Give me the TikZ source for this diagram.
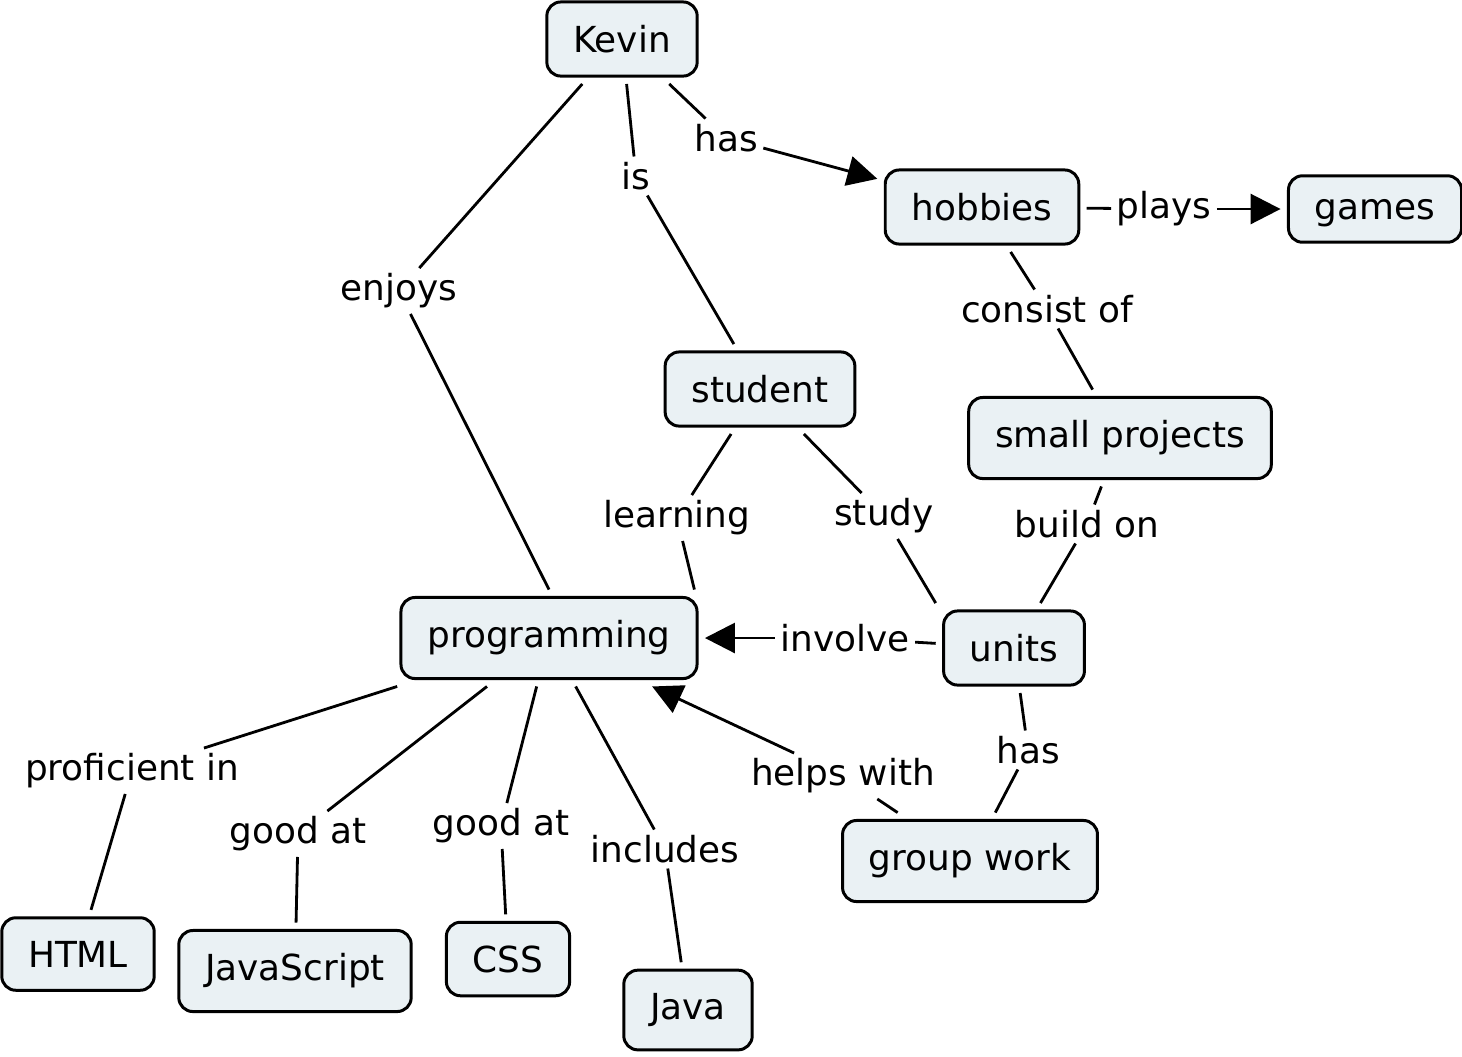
\documentclass[tikz,border=0pt]{standalone}
\usepackage{fontspec}
\setmainfont{DejaVu Sans}
\usepackage{tikz}
\usepackage{xcolor}
\usetikzlibrary{arrows.meta}
\definecolor{CmapFill}{HTML}{EAF1F4}

\begin{document}
\begin{tikzpicture}[
    x=0.02cm, y=-0.02cm,
    font=\fontsize{20.4}{24}\selectfont,
    concept/.style={draw,rounded corners=8pt,fill=CmapFill,line width=1.7pt,inner xsep=15pt,inner ysep=13.2pt,outer sep=4.5pt},
    link/.style={inner sep=3pt},
    line/.style={line width=1.6pt},
    arrow/.style={line,-{Triangle[length=17pt,width=17pt]}}
  ]
    \useasboundingbox (0,0) rectangle (1462,1056);

    \node[concept] (kevin) at (622,39) {Kevin};
    \node[concept] (hobbies) at (982,207) {hobbies};
    \node[concept,text depth=0pt] (games) at (1375,209) {games};
    \node[concept] (student) at (760,389) {student};
    \node[concept] (projects) at (1120,438) {small projects};
    \node[concept] (prog) at (549,638) {programming};
    \node[concept] (units) at (1014,648) {units};
    \node[concept] (group) at (970,861) {group work};
    \node[concept] (html) at (78,954) {HTML};
    \node[concept] (js) at (295,971) {JavaScript};
    \node[concept] (css) at (508,959) {CSS};
    \node[concept] (java) at (688,1010) {Java};

    \node[link] (enjoys) at (399,291) {enjoys};
    \node[link] (is) at (636,176) {is};
    \node[link] (has1) at (726,138) {has};
    \node[link] (plays) at (1164,209) {plays};
    \node[link] (consist) at (1047,309) {consist of};
    \node[link] (learning) at (677,518) {learning};
    \node[link] (study) at (884,516) {study};
    \node[link] (build) at (1087,524) {build on};
    \node[link] (involve) at (845,638) {involve};
    \node[link] (has2) at (1028,750) {has};
    \node[link] (helps) at (843,776) {helps with};
    \node[link] (profin) at (132,771) {proficient in};
    \node[link] (good1) at (298,834) {good at};
    \node[link] (good2) at (501,826) {good at};
    \node[link] (includes) at (665,849) {includes};

    \draw[line] (kevin) -- (enjoys);
    \draw[line] (enjoys) -- (prog.north);
    \draw[line] (kevin) -- (is);
    \draw[line] (is) -- (student);
    \draw[line] (kevin) -- (has1);
    \draw[arrow] (has1) -- (hobbies);
    \draw[line] (hobbies) -- (plays);
    \draw[arrow] (plays) -- (games);
    \draw[line] (hobbies) -- (consist);
    \draw[line] (consist) -- (projects);
    \draw[line] (student) -- (learning);
    \draw[line] (learning) -- ([xshift=-6pt]prog.north east);
    \draw[line] (student) -- (study);
    \draw[line] (study) -- (units.north west);
    \draw[line] (projects) -- (build);
    \draw[line] (build) -- (units);
    \draw[line] (units) -- (involve);
    \draw[arrow] (involve) -- (prog);
    \draw[line] (units) -- (has2);
    \draw[line] (has2) -- (group);
    \draw[line] (group) -- (helps);
    \draw[arrow] (helps) -- (prog);
    \draw[line] (prog) -- (profin);
    \draw[line] (profin) -- (html);
    \draw[line] (prog) -- (good1);
    \draw[line] (good1) -- (js);
    \draw[line] (prog) -- (good2);
    \draw[line] (good2) -- (css);
    \draw[line] (prog) -- (includes);
    \draw[line] (includes) -- (java);
  \end{tikzpicture}
\end{document}
